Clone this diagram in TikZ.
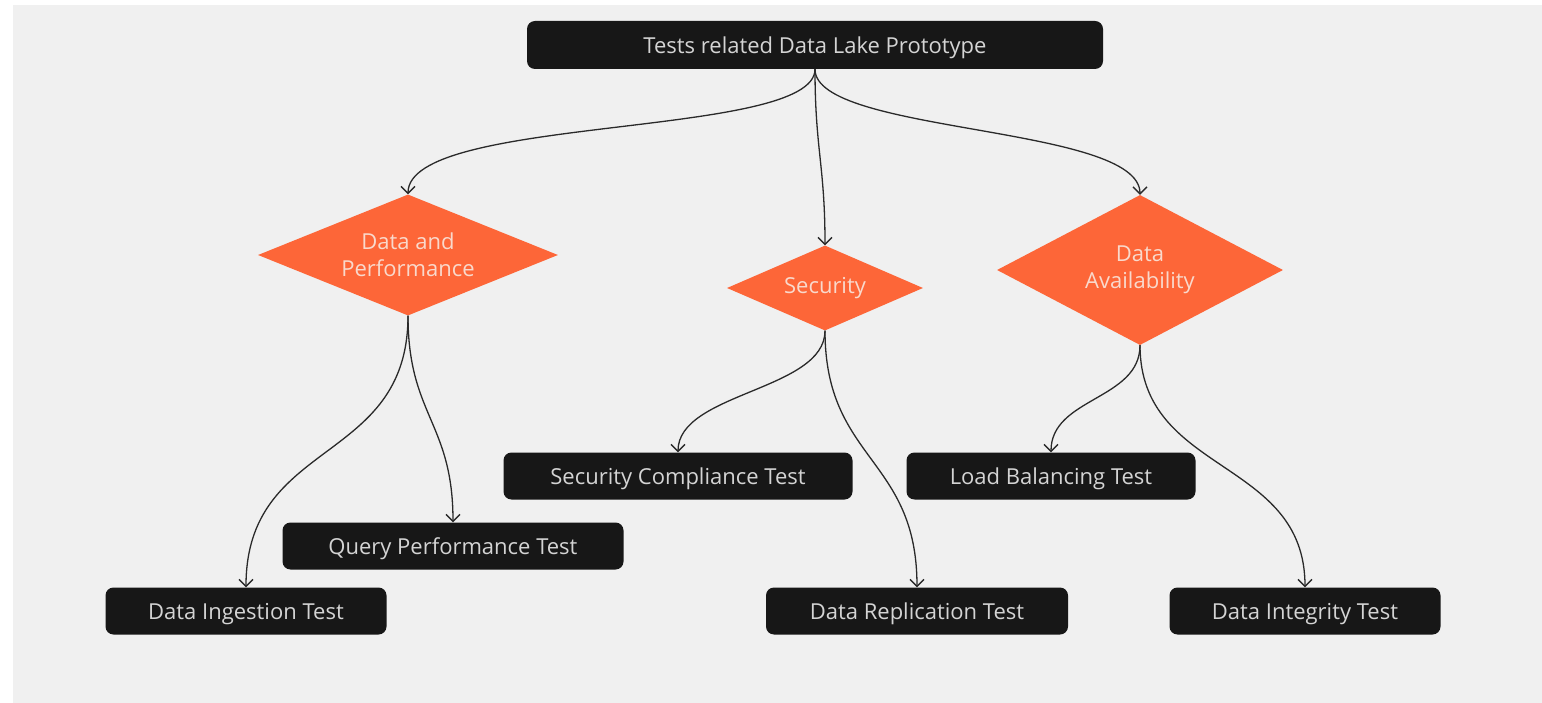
\documentclass[tikz,border=0pt]{standalone}
\usepackage{fontspec}
\setmainfont{Open Sans}
\usetikzlibrary{shapes.geometric,arrows.meta}
\definecolor{bg}{HTML}{F0F0F0}
\definecolor{boxfill}{HTML}{171717}
\definecolor{boxtext}{HTML}{D4D4D4}
\definecolor{orng}{HTML}{FD6638}
\definecolor{dtext}{HTML}{F9D9CC}
\definecolor{linecol}{HTML}{2A2A2A}
\begin{document}
\begin{tikzpicture}[x=1pt,y=-1pt,
  box/.style={fill=boxfill, rounded corners=8pt, text=boxtext, font=\fontsize{22}{26}\selectfont, inner sep=0pt, minimum height=47pt, text height=17.7pt, text depth=0pt},
  dia/.style={diamond, fill=orng, text=dtext, inner sep=0pt, align=center, font=\fontsize{22}{27}\selectfont},
  conn/.style={draw=linecol, line width=1.3pt, -{Straight Barb[length=7pt,width=14pt]}}]
\useasboundingbox (0,0) rectangle (1542,703);
\fill[bg] (13,5) rectangle (1542,703);
% nodes
\node[box, minimum width=576pt, minimum height=48pt] (top) at (815,45) {Tests related Data Lake Prototype};
\node[dia, minimum width=300pt, minimum height=121pt, shape aspect=2.48] (perf) at (408,255) {Data and\\Performance};
\node[dia, minimum width=196pt, minimum height=85pt, shape aspect=2.3] (sec) at (825,288) {Security};
\node[dia, minimum width=286pt, minimum height=150pt, shape aspect=1.9] (avail) at (1140,270) {Data\\Availability};
\node[box, minimum width=281pt] (ingest) at (246,611) {Data Ingestion Test};
\node[box, minimum width=341pt] (query) at (453,546) {Query Performance Test};
\node[box, minimum width=349pt] (comp) at (678,476) {Security Compliance Test};
\node[box, minimum width=289pt] (load) at (1051,476) {Load Balancing Test};
\node[box, minimum width=302pt] (repl) at (917,611) {Data Replication Test};
\node[box, minimum width=271pt] (integ) at (1305,611) {Data Integrity Test};
% connectors
\draw[conn] (top.south) .. controls +(0,70) and +(0,-80) .. (perf.north);
\draw[conn] (top.south) .. controls +(0,80) and +(0,-80) .. (sec.north);
\draw[conn] (top.south) .. controls +(0,65) and +(0,-70) .. (avail.north);
\draw[conn] (perf.south) .. controls +(0,150) and +(0,-150) .. (ingest.north);
\draw[conn] (perf.south) .. controls +(0,100) and +(0,-100) .. (query.north);
\draw[conn] (sec.south) .. controls +(0,60) and +(0,-60) .. (comp.north);
\draw[conn] (sec.south) .. controls +(0,130) and +(0,-130) .. (repl.north);
\draw[conn] (avail.south) .. controls +(0,55) and +(0,-55) .. (load.north);
\draw[conn] (avail.south) .. controls +(0,130) and +(0,-130) .. (integ.north);
\end{tikzpicture}
\end{document}
